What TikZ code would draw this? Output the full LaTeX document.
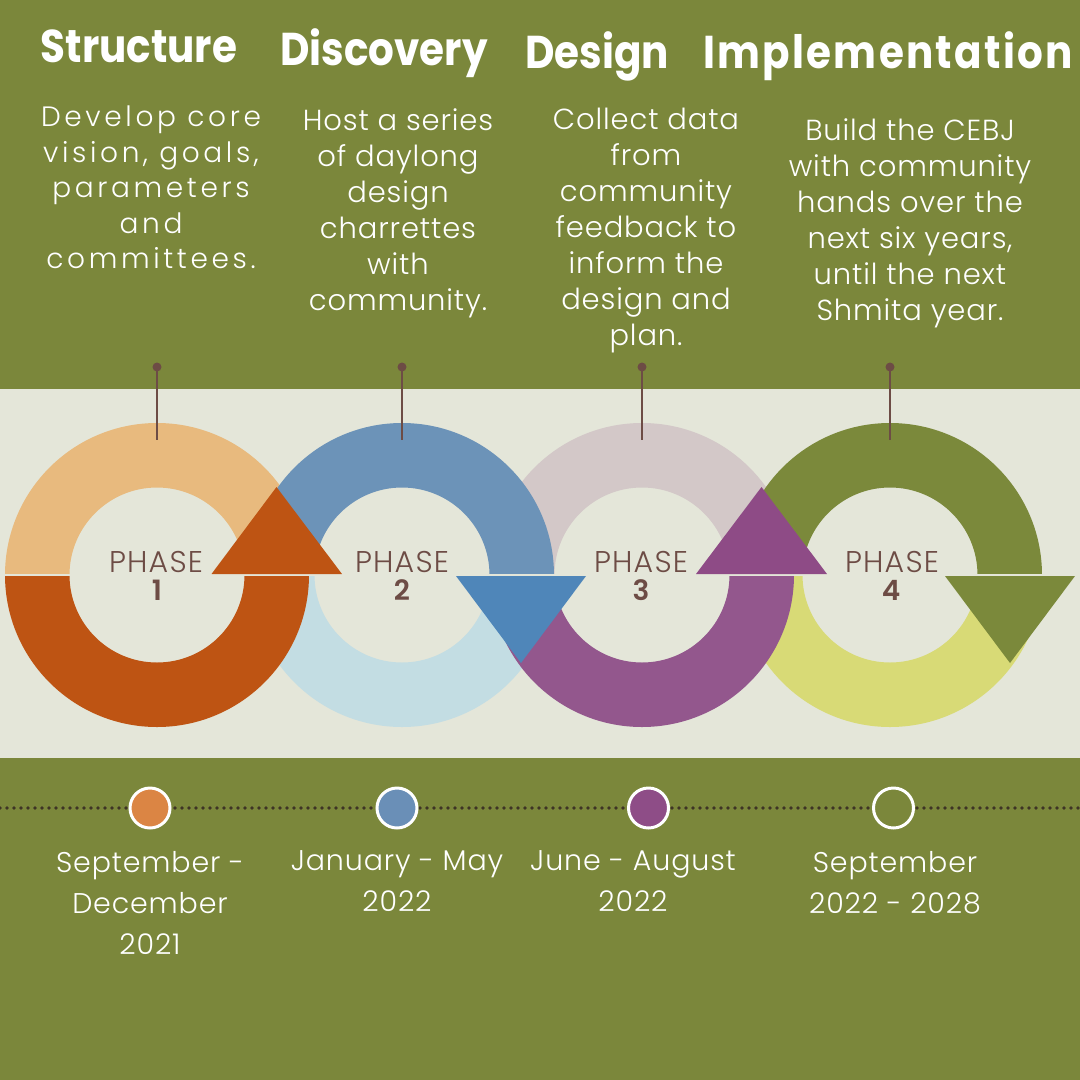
\documentclass[tikz,border=0pt]{standalone}
\usepackage{fontspec}
\setmainfont{Poppins}
\newfontfamily\titlefont{Poppins}[UprightFont=* Bold, FakeStretch=0.88]
\newfontfamily\titlewide{Poppins}[UprightFont=* Bold, FakeStretch=0.88, LetterSpace=5]
\newfontfamily\lightfont{Poppins}[UprightFont=* Light, LetterSpace=3]
\newfontfamily\lightwide{Poppins}[UprightFont=* Light, LetterSpace=13]
\newfontfamily\phasefont{Poppins}[UprightFont=* Light, LetterSpace=4]
\newfontfamily\numfont{Poppins}[UprightFont=* SemiBold]
\definecolor{bgolive}{HTML}{7B873B}
\definecolor{band}{HTML}{E4E6D9}
\definecolor{lorange}{HTML}{E8BA7E}
\definecolor{dorange}{HTML}{BE5413}
\definecolor{mblue}{HTML}{6C93B8}
\definecolor{lblue}{HTML}{C3DDE3}
\definecolor{tblue}{HTML}{4F86B9}
\definecolor{mauve}{HTML}{D3C8C8}
\definecolor{purp}{HTML}{93578D}
\definecolor{tpurp}{HTML}{8E4B86}
\definecolor{oring}{HTML}{7B893B}
\definecolor{yel}{HTML}{D8DA76}
\definecolor{brn}{HTML}{6D4C45}
\definecolor{dotc}{HTML}{3E3425}
\definecolor{cone}{HTML}{DB8544}
\definecolor{ctwo}{HTML}{6A8FB7}
\definecolor{cthree}{HTML}{8E4D87}
\newcommand{\RingTop}[2]{\fill[#2] (#1-152,575) arc[start angle=180,end angle=360,radius=152] -- (#1+87.5,575) arc[start angle=0,end angle=-180,radius=87.5] -- cycle;}
\newcommand{\RingBot}[2]{\fill[#2] (#1-152,575) arc[start angle=180,end angle=0,radius=152] -- (#1+87.5,575) arc[start angle=0,end angle=180,radius=87.5] -- cycle;}
\begin{document}
\begin{tikzpicture}[x=1pt,y=-1pt,
  every node/.style={inner sep=0pt, outer sep=0pt},
  ttl/.style={text=white, anchor=base, font=\titlefont\fontsize{46}{46}\selectfont},
  bodytext/.style={text=white, align=center, anchor=north, font=\lightfont\fontsize{29}{36}\selectfont},
  datetext/.style={text=white, align=center, anchor=north, font=\lightfont\fontsize{28.5}{41}\selectfont},
  phasetext/.style={text=brn, anchor=base, font=\phasefont\fontsize{30}{30}\selectfont},
  phasenum/.style={text=brn, anchor=base, font=\numfont\fontsize{28}{28}\selectfont},
  pinline/.style={draw=brn, line width=2.7pt},
  pinhead/.style={circle, fill=brn, minimum size=9},
  dot/.style={circle, draw=white, line width=3pt, minimum size=40}
]
\useasboundingbox (0,0) rectangle (1080,1080);
\fill[bgolive] (0,0) rectangle (1080,1080);
\fill[band] (0,389) rectangle (1080,758);

% rings: top halves
\RingTop{642}{mauve}
\RingTop{157}{lorange}
\RingTop{402}{mblue}
\RingTop{890}{oring}
% bottom halves
\RingBot{402}{lblue}
\RingBot{890}{yel}
\RingBot{157}{dorange}
\RingBot{642}{purp}
% seam
\draw[band, line width=2pt] (0,575) -- (1080,575);
% arrow heads
\fill[dorange] (211.5,574) -- (342,574) -- (276.5,487) -- cycle;
\fill[tblue] (456,576) -- (586,576) -- (521,663) -- cycle;
\fill[tpurp] (696,574) -- (827,574) -- (761.5,487) -- cycle;
\fill[oring] (945,576) -- (1075,576) -- (1010,663) -- cycle;

% pins
\foreach \px/\nm in {157/a,402/b,642/c,890/d}{
  \node[pinhead] (head\nm) at (\px,367) {};
  \coordinate (foot\nm) at (\px,440);
  \draw[pinline] (head\nm.center) -- (foot\nm);
}

% phase labels
\node[phasetext] (ph1) at (156,572) {PHASE};
\node[phasetext] (ph2) at (402,572) {PHASE};
\node[phasetext] (ph3) at (641,572) {PHASE};
\node[phasetext] (ph4) at (892,572) {PHASE};
\node[phasenum] (n1) at (157,600) {1};
\node[phasenum] (n2) at (402,600) {2};
\node[phasenum] (n3) at (641,600) {3};
\node[phasenum] (n4) at (891,600) {4};

% titles
\node[ttl] (t1) at (139,62) {Structure};
\node[ttl] (t2) at (384,65) {Discovery};
\node[ttl] (t3) at (597,68) {Design};
\node[ttl, font=\titlewide\fontsize{46}{46}\selectfont] (t4) at (888,68) {Implementation};

% descriptions
\node[bodytext, font=\lightwide\fontsize{28}{35.5}\selectfont] (b1) at (151,106) {Develop core\\vision, goals,\\parameters\\and\\committees.};
\node[bodytext] (b2) at (398,108.5) {Host a series\\of daylong\\design\\charrettes\\with\\community.};
\node[bodytext] (b3) at (646,108.5) {Collect data\\from\\community\\feedback to\\inform the\\design and\\plan.};
\node[bodytext] (b4) at (910,118.5) {Build the CEBJ\\with community\\hands over the\\next six years,\\until the next\\Shmita year.};

% timeline
\coordinate (tl0) at (0,808);
\coordinate (tl1) at (1080,808);
\draw[dotc, line width=3.8pt, line cap=round, dash pattern=on 0pt off 7pt] (tl0) -- (tl1);
\node[dot, fill=cone] (d1) at (150,808) {};
\node[dot, fill=ctwo] (d2) at (397,808) {};
\node[dot, fill=cthree] (d3) at (648.5,808) {};
\node[dot, fill=bgolive] (d4) at (893.5,808) {};

% dates
\node[datetext] (e1) at (150,851) {September -\\December\\2021};
\node[datetext] (e2) at (397,851) {January - May\\2022};
\node[datetext] (e3) at (633,851) {June - August\\2022};
\node[datetext] (e4) at (895,851) {September\\2022 - 2028};
\end{tikzpicture}
\end{document}
